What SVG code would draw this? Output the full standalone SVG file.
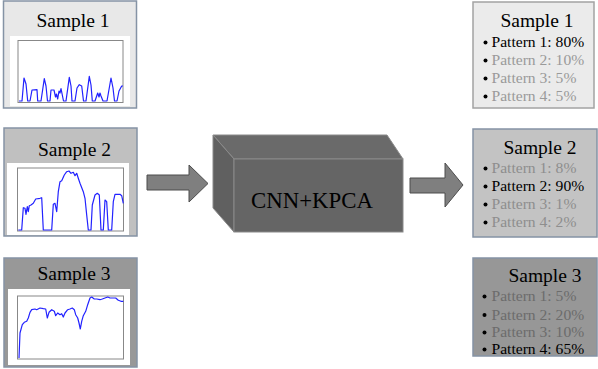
<svg xmlns="http://www.w3.org/2000/svg" width="598" height="369" viewBox="0 0 598 369" font-family="'Liberation Serif', 'DejaVu Serif', serif">
<style>
text{font-family:'Liberation Serif','DejaVu Serif',serif}
.title{font-size:19.5px;text-anchor:middle}
.item{font-size:15.6px}
.g1{fill:#9a9a9a}.g2{fill:#8e8e8e}.g3{fill:#6c6c6c}
.box{stroke:#8593a5;stroke-width:1.5}
.frame{fill:#fff;stroke:#888;stroke-width:1}
.wave{fill:none;stroke:#2222ff;stroke-width:1.2;stroke-linejoin:round}
.arrow{fill:#7f7f7f;stroke:#4d4d4d;stroke-width:1}
</style>
<rect width="598" height="369" fill="#fff"/>

<g id="sample1-in">
<rect class="box" x="3.5" y="1" width="133" height="107" fill="#e8e8e8"/>
<rect x="10" y="36" width="120" height="70" fill="#fff"/>
<rect class="frame" x="18" y="40.5" width="105" height="62"/>
<path class="wave" d="M19,101 L22,101 L24,78 L26,84 L27.7,101 L30,101 L32,90 L37,89.7 L37.7,101 L41,101 L44.3,78.7 L46,86 L47.5,101 L50,101 L51,90 L54,90 L55.5,97 L56.5,94 L57.7,99 L59,91 L60,93 L61,88.7 L62.5,96 L63.5,101 L66,101 L69.3,77.3 L71,86 L72,101 L75,101 L77,88 L79.3,84.7 L81.7,86 L83.5,101 L86,101 L89.3,76.3 L91,85 L92.3,101 L95,101 L97.7,93 L99,97 L100,93 L101,96 L103,101 L107,101 L111,78 L113,88 L114.5,101 L117,101 L119,91 L121.7,86 L123,86"/>
<text class="title" x="73" y="27" font-family="Liberation Serif, serif">Sample 1</text>
</g>

<g id="sample2-in">
<rect class="box" x="4" y="128" width="133" height="108" fill="#c0c0c0"/>
<rect x="7" y="163" width="122" height="72" fill="#fff"/>
<rect class="frame" x="17.5" y="168" width="106" height="63"/>
<path class="wave" d="M18.3,230 L21.7,230 L23.3,207.7 L25,208.3 L26,214.3 L27.3,206.7 L28.3,211.7 L29.3,205.7 L31,205 L33.3,203.3 L35.7,199 L40,198.3 L41.7,197.7 L43.3,230 L51.7,230 L53.3,204.3 L55,203.3 L56.7,211.7 L58.3,191.7 L60,181.7 L61.7,180.7 L64.3,175 L66.7,171.7 L69,171 L71,173.3 L73.3,172.3 L75,175.7 L76.7,173.3 L78.3,178.3 L80,183.3 L83.3,191.7 L85,198.3 L86.7,215 L88.3,230 L91,230 L92.3,205 L95,195 L97.3,193.3 L99.3,195 L101,230 L103.3,230 L105,200 L106.7,201.7 L108.3,230 L111.7,230 L113.3,201.7 L115,194.3 L120,194.3 L121.7,195.7 L123.3,203.3"/>
<text class="title" x="74.5" y="156" font-family="Liberation Serif, serif">Sample 2</text>
</g>

<g id="sample3-in">
<rect class="box" x="4" y="258" width="133" height="109" fill="#989898"/>
<rect x="8" y="289" width="122" height="76" fill="#fff"/>
<rect class="frame" x="17.5" y="296" width="106" height="63"/>
<path class="wave" d="M19,358 L20,333 L22.3,324.7 L24.3,322.3 L26.7,321.3 L28.3,318 L30,312.3 L31.7,309.7 L35,309 L36.7,309.7 L40,308 L43.3,308.7 L45.7,309 L47.3,318 L49,312.3 L51.7,309.7 L54.3,311.3 L55.7,315.7 L57.7,313 L60,314.7 L61.7,313.7 L63.3,317 L65,313 L67.7,309.7 L70,309 L72.3,308 L74.3,309.7 L75.7,314.7 L77.7,318 L79,323 L80.3,329 L81.7,321.3 L83.3,315.7 L85.7,311.3 L87.7,304.7 L90,298 L91.7,297 L94.3,299 L96.7,299 L100,299.7 L102.3,299 L105,298 L107.7,297 L110,298 L113.3,298 L115.7,298 L118.3,300.3 L121,301.3 L123.3,301.3"/>
<text class="title" x="74" y="280" font-family="Liberation Serif, serif">Sample 3</text>
</g>

<g id="cnn-kpca">
<polygon points="213,135 387,135 403,159 234,159" fill="#6a6a6a" stroke="#8a8a8a" stroke-width="1"/>
<polygon points="213,135 234,159 234,232 213,208" fill="#606060" stroke="#8a8a8a" stroke-width="1"/>
<rect x="234" y="159" width="169" height="73" fill="#656565" stroke="#8a8a8a" stroke-width="1"/>
<text x="312" y="207.5" font-size="22.8" text-anchor="middle" font-family="Liberation Serif, serif">CNN+KPCA</text>
</g>

<g id="connectors">
<polygon class="arrow" points="147,175 189,175 189,165 208,183.5 189,202 189,190 147,190"/>
<polygon class="arrow" points="410,178 445,178 445,163 463,185 445,207 445,193 410,193"/>
</g>

<g id="sample1-out" font-family="Liberation Serif, serif">
<rect x="473" y="2" width="121" height="106" fill="#ebebeb" stroke="#a3a3a3" stroke-width="1.5"/>
<text class="title" x="537" y="27">Sample 1</text>
<circle cx="485.5" cy="42.5" r="2"/><circle cx="485.5" cy="60.5" r="2"/><circle cx="485.5" cy="78.5" r="2"/><circle cx="485.5" cy="96.5" r="2"/>
<text class="item" x="491.5" y="47">Pattern 1: 80%</text>
<text class="item g1" x="491.5" y="65">Pattern 2: 10%</text>
<text class="item g1" x="491.5" y="83">Pattern 3: 5%</text>
<text class="item g1" x="491.5" y="101">Pattern 4: 5%</text>
</g>

<g id="sample2-out" font-family="Liberation Serif, serif">
<rect x="473" y="129" width="124" height="108" fill="#c3c3c3" stroke="#8593a5" stroke-width="1.5"/>
<text class="title" x="540" y="154">Sample 2</text>
<circle cx="485.5" cy="168.5" r="2"/><circle cx="485.5" cy="186.5" r="2"/><circle cx="485.5" cy="204.5" r="2"/><circle cx="485.5" cy="222.5" r="2"/>
<text class="item g2" x="491.5" y="173">Pattern 1: 8%</text>
<text class="item" x="491.5" y="191">Pattern 2: 90%</text>
<text class="item g2" x="491.5" y="209">Pattern 3: 1%</text>
<text class="item g2" x="491.5" y="227">Pattern 4: 2%</text>
</g>

<g id="sample3-out" font-family="Liberation Serif, serif">
<rect x="473" y="258" width="124" height="98" fill="#979797" stroke="#8593a5" stroke-width="1.5"/>
<text class="title" x="545" y="282">Sample 3</text>
<circle cx="484.5" cy="296.5" r="2"/><circle cx="484.5" cy="315" r="2"/><circle cx="484.5" cy="332.5" r="2"/><circle cx="484.5" cy="349.5" r="2"/>
<text class="item g3" x="491.5" y="301">Pattern 1: 5%</text>
<text class="item g3" x="491.5" y="319.5">Pattern 2: 20%</text>
<text class="item g3" x="491.5" y="337">Pattern 3: 10%</text>
<text class="item" x="491.5" y="354">Pattern 4: 65%</text>
</g>
</svg>
